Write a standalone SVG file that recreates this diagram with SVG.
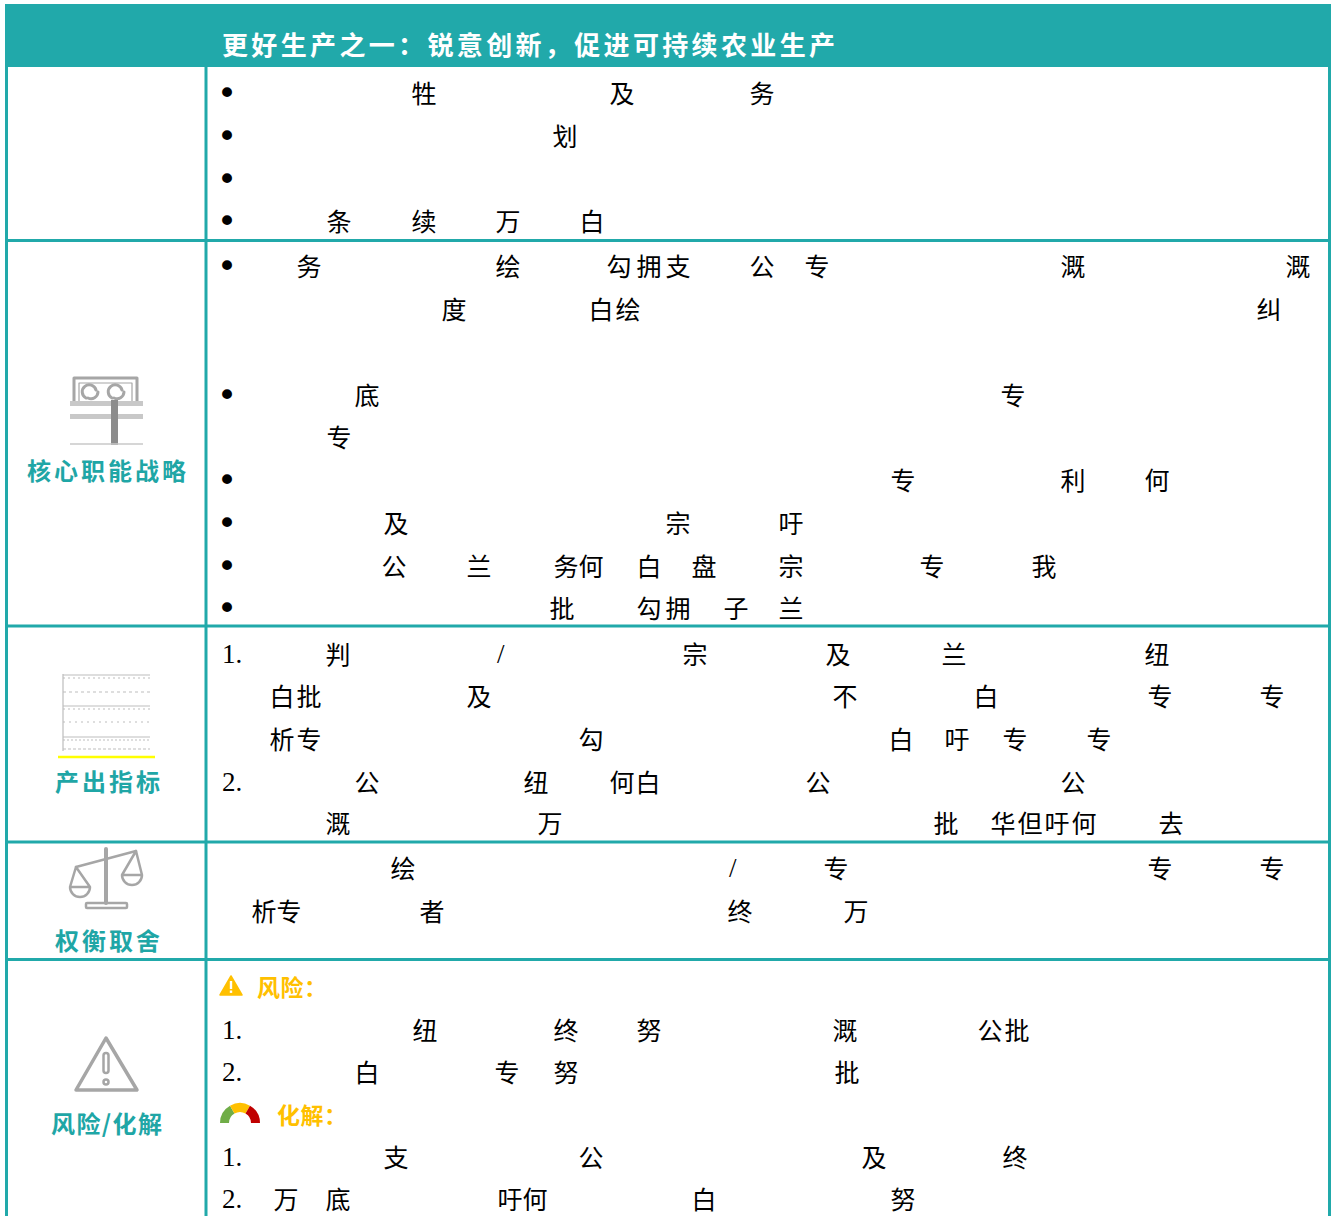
<svg xmlns="http://www.w3.org/2000/svg" width="1336" height="1216" viewBox="0 0 1336 1216">
<style>
.t{font-family:"Noto Sans CJK SC","Liberation Serif",serif;font-size:25px;fill:#000}
.n{font-family:"Liberation Serif",serif;font-size:27px;fill:#000}
.b{font-family:"DejaVu Sans",sans-serif;font-size:34px;fill:#000}
.lab{font-family:"Noto Sans CJK SC",sans-serif;font-size:24px;font-weight:700;fill:#1FA6A6}
.yl{font-family:"Noto Sans CJK SC",sans-serif;font-size:23px;font-weight:700;fill:#FFC000}
.ttl{font-family:"Noto Sans CJK SC",sans-serif;font-size:26px;font-weight:700;fill:#fff}
.ln{stroke:#21A9AA;stroke-width:3;fill:none}
.ic{stroke:#A6A6A6;fill:none;stroke-linecap:round;stroke-linejoin:round}
</style>
<rect width="1336" height="1216" fill="#fff"/>
<g id="header">
<rect x="5" y="4" width="1326" height="63" fill="#21A9AA"/>
<text class="ttl" x="222" y="55" textLength="613" lengthAdjust="spacing">更好生产之一：锐意创新，促进可持续农业生产</text>
</g>
<g id="grid">
<line class="ln" x1="6.5" y1="66" x2="6.5" y2="1216"/>
<line class="ln" x1="1329.5" y1="66" x2="1329.5" y2="1216"/>
<line class="ln" x1="206" y1="66" x2="206" y2="1216"/>
<line class="ln" x1="5" y1="240.5" x2="1331" y2="240.5"/>
<line class="ln" x1="5" y1="626" x2="1331" y2="626"/>
<line class="ln" x1="5" y1="842" x2="1331" y2="842"/>
<line class="ln" x1="5" y1="959.5" x2="1331" y2="959.5"/>
</g>
<g id="row1">
<text class="b" x="217" y="105">•</text>
<text class="b" x="217" y="148">•</text>
<text class="b" x="217" y="191">•</text>
<text class="b" x="217" y="233">•</text>
<text class="t" x="411.5 609.5 749.5" y="102.5">牲及务</text>
<text class="t" x="552.5" y="145.5">划</text>
<text class="t" x="326.5 411.5 495.5 579.5" y="230.5">条续万白</text>
</g>
<g id="row2">
<g id="icon-core">
<path class="ic" d="M74 404V378H137V404" stroke-width="3" stroke="#8C8C8C"/>
<path class="ic" d="M79 402V383H132V402" stroke-width="1.2"/>
<path class="ic" d="M86 398a7 7 0 1 1 10-8M98 392a7 7 0 0 1-10 6" stroke-width="3" stroke="#8C8C8C"/>
<path class="ic" d="M112 398a7 7 0 1 1 10-8M124 392a7 7 0 0 1-10 6" stroke-width="3" stroke="#8C8C8C"/>
<rect x="70" y="401" width="73" height="5" fill="#C8C8C8"/>
<rect x="70" y="414" width="73" height="5" fill="#C8C8C8"/>
<rect x="111" y="400" width="7" height="45" fill="#8C8C8C"/>
<line x1="70" y1="444" x2="143" y2="444" stroke="#C8C8C8" stroke-width="1.5"/>
</g>
<text class="lab" x="27" y="480" textLength="159" lengthAdjust="spacing">核心职能战略</text>
<text class="b" x="217" y="278">•</text>
<text class="b" x="217" y="407">•</text>
<text class="b" x="217" y="492">•</text>
<text class="b" x="217" y="535">•</text>
<text class="b" x="217" y="578">•</text>
<text class="b" x="217" y="620">•</text>
<text class="t" x="296.5 495.5 606.5 636.5 665.5 749.5 804.5 1060.5 1285.5" y="275.5">务绘勾拥支公专溉溉</text>
<text class="t" x="441.5 588.5 615.5 1256.5" y="318.5">度白绘纠</text>
<text class="t" x="354.5 1000.5" y="404.5">底专</text>
<text class="t" x="326.5" y="446.5">专</text>
<text class="t" x="890.5 1060.5 1144.5" y="489.5">专利何</text>
<text class="t" x="383.5 665.5 778.5" y="532.5">及宗吁</text>
<text class="t" x="381.5 466.5 553.5 578.5 636.5 691.5 778.5 919.5 1031.5" y="575.5">公兰务何白盘宗专我</text>
<text class="t" x="549.5 636.5 665.5 723.5 778.5" y="617.5">批勾拥子兰</text>
</g>
<g id="row3">
<g id="icon-output">
<g stroke="#BDBDBD" stroke-width="1.2" fill="none">
<line x1="63" y1="675" x2="150" y2="675"/>
<line x1="63" y1="678" x2="150" y2="678" stroke-dasharray="2 3"/>
<line x1="63" y1="692" x2="150" y2="692" stroke-dasharray="3 3"/>
<line x1="63" y1="706" x2="150" y2="706"/>
<line x1="63" y1="709" x2="150" y2="709" stroke-dasharray="2 3"/>
<line x1="63" y1="722" x2="150" y2="722" stroke-dasharray="2 4"/>
<line x1="63" y1="737" x2="150" y2="737"/>
<line x1="63" y1="740" x2="150" y2="740" stroke-dasharray="2 2"/>
<line x1="63" y1="749" x2="150" y2="749" stroke-dasharray="3 2"/>
<line x1="63" y1="674" x2="63" y2="751"/>
</g>
<line x1="58" y1="757" x2="155" y2="757" stroke="#FFFF00" stroke-width="2.5"/>
</g>
<text class="lab" x="55" y="791" textLength="105" lengthAdjust="spacing">产出指标</text>
<text class="n" x="222" y="663">1.</text>
<text class="n" x="222" y="791">2.</text>
<text class="t" x="325.5" y="663.5">判</text>
<text class="n" x="497" y="663">/</text>
<text class="t" x="682.5 825.5 941.5 1144.5" y="663.5">宗及兰纽</text>
<text class="t" x="269.5 296.5 466.5 832.5 973.5 1147.5 1259.5" y="705.5">白批及不白专专</text>
<text class="t" x="269.5 296.5 578.5 888.5 944.5 1002.5 1086.5" y="748.5">析专勾白吁专专</text>
<text class="t" x="354.5 523.5 609.5 635.5 805.5 1060.5" y="791.5">公纽何白公公</text>
<text class="t" x="325.5 537.5 933.5 990.5 1017.5 1044.5 1071.5 1158.5" y="832.5">溉万批华但吁何去</text>
</g>
<g id="row4">
<g id="icon-scales" class="ic" stroke-width="2.5">
<line x1="76" y1="867" x2="136" y2="851"/>
<line x1="106" y1="849" x2="106" y2="903" stroke-width="4"/>
<rect x="86" y="903" width="41" height="5" rx="1"/>
<path d="M76 867L70 887M76 867L90 887M70 887H90A10 10 0 0 1 70 887Z"/>
<path d="M136 851L122 875M136 851L142 875M122 875H142A10 10 0 0 1 122 875Z"/>
</g>
<text class="lab" x="55" y="950" textLength="105" lengthAdjust="spacing">权衡取舍</text>
<text class="t" x="390.5" y="877.5">绘</text>
<text class="n" x="729" y="877">/</text>
<text class="t" x="823.5 1147.5 1259.5" y="877.5">专专专</text>
<text class="t" x="251.5 276.5 419.5 727.5 843.5" y="920.5">析专者终万</text>
</g>
<g id="row5">
<g id="icon-warning" class="ic" stroke-width="3.5">
<path d="M106 1038L137 1090H76Z"/>
<rect x="103.5" y="1053" width="5" height="20" rx="2.5" stroke-width="2.5"/>
<circle cx="106" cy="1082" r="2.5" stroke-width="2.5"/>
</g>
<text class="lab" x="51" y="1133" textLength="111" lengthAdjust="spacing">风险/化解</text>
<g id="icon-risk">
<path d="M231 976L242 995H220Z" fill="#FFC000" stroke="#FFC000" stroke-width="1.5" stroke-linejoin="round"/>
<rect x="229.8" y="981" width="2.4" height="8" fill="#fff"/>
<rect x="229.8" y="990.5" width="2.4" height="2.4" fill="#fff"/>
</g>
<text class="yl" x="257" y="996" textLength="70" lengthAdjust="spacing">风险：</text>
<g id="icon-gauge">
<path d="M220 1123A20 20 0 0 1 230 1105.68L234.5 1113.47A11 11 0 0 0 229 1123Z" fill="#70AD47"/>
<path d="M230 1105.68A20 20 0 0 1 250 1105.68L245.5 1113.47A11 11 0 0 0 234.5 1113.47Z" fill="#FFC000"/>
<path d="M250 1105.68A20 20 0 0 1 260 1123L251 1123A11 11 0 0 0 245.5 1113.47Z" fill="#C00000"/>
</g>
<text class="yl" x="277" y="1124" textLength="70" lengthAdjust="spacing">化解：</text>
<text class="n" x="222" y="1039">1.</text>
<text class="n" x="222" y="1081">2.</text>
<text class="n" x="222" y="1166">1.</text>
<text class="n" x="222" y="1208">2.</text>
<text class="t" x="412.5 553.5 636.5 832.5 977.5 1004.5" y="1039.5">纽终努溉公批</text>
<text class="t" x="354.5 494.5 553.5 834.5" y="1081.5">白专努批</text>
<text class="t" x="383.5 578.5 861.5 1002.5" y="1166.5">支公及终</text>
<text class="t" x="273.5 325.5 497.5 522.5 691.5 890.5" y="1208.5">万底吁何白努</text>
</g>
</svg>
